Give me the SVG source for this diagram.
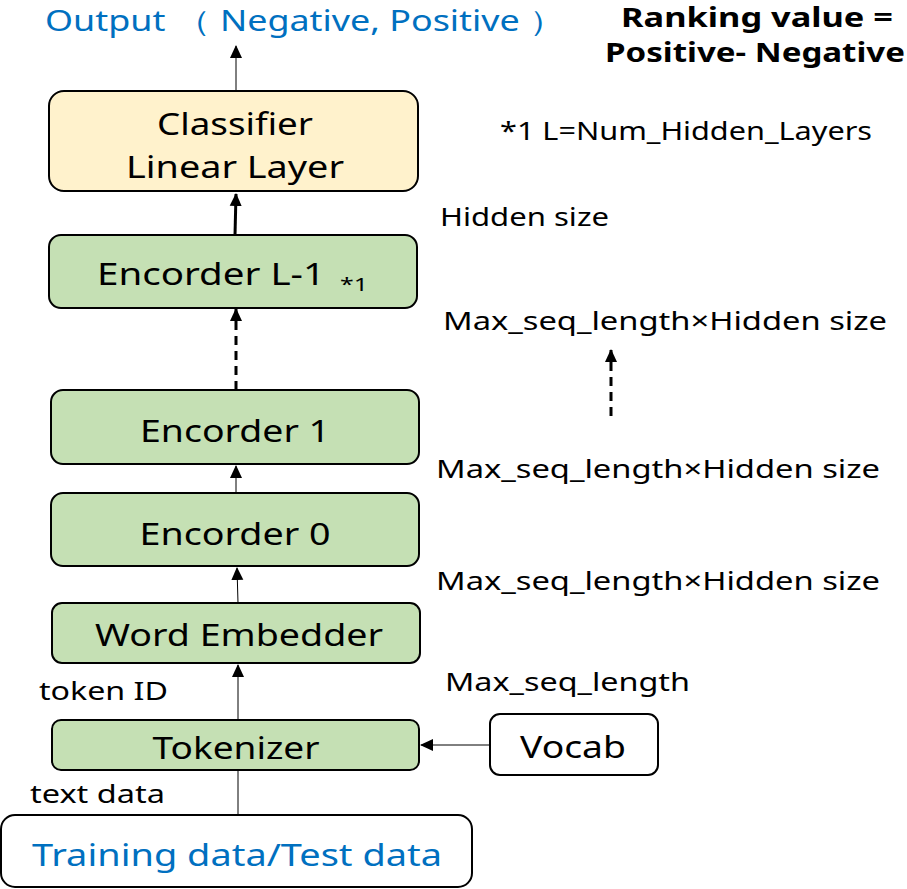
<svg xmlns="http://www.w3.org/2000/svg" width="907" height="889" viewBox="0 0 907 889">
<style>
text{font-family:"Noto Sans","Liberation Sans",sans-serif;fill:#000}
.box{stroke:#000;stroke-width:2}
.green{fill:#C5E0B4}
.yellow{fill:#FFF2CC}
.white{fill:#fff}
.big{font-size:31px;text-anchor:middle}
.lbl{font-size:26px}
.blue{fill:#0070C0}
.line{stroke:#000;stroke-width:1;fill:none}
.thick{stroke:#000;stroke-width:3;fill:none}
.dash{stroke:#000;stroke-width:3;fill:none;stroke-dasharray:9,6}
</style>
<defs>
<marker id="ah" markerWidth="14" markerHeight="14" refX="12" refY="7" orient="auto" markerUnits="userSpaceOnUse"><path d="M0,1 L13,7 L0,13 z" fill="#000"/></marker>
</defs>
<g id="connectors">
<line class="line" x1="236" y1="91" x2="236" y2="46" marker-end="url(#ah)"/>
<line class="thick" x1="235" y1="235" x2="236" y2="194" marker-end="url(#ah)"/>
<line class="dash" x1="236" y1="390" x2="236" y2="309" marker-end="url(#ah)"/>
<line class="line" x1="236" y1="493" x2="236" y2="466" marker-end="url(#ah)"/>
<line class="line" x1="238" y1="603" x2="237" y2="568" marker-end="url(#ah)"/>
<line class="line" x1="238" y1="720" x2="238" y2="665" marker-end="url(#ah)"/>
<line class="line" x1="490" y1="745" x2="421" y2="745" marker-end="url(#ah)"/>
<line class="line" x1="238" y1="815" x2="238" y2="771"/>
<line class="dash" x1="611" y1="416" x2="611" y2="350" marker-end="url(#ah)"/>
</g>
<g id="output-label"><text class="blue" x="45" y="31" font-size="29" textLength="520" lengthAdjust="spacingAndGlyphs">Output （ Negative, Positive ）</text></g>
<g id="ranking-label">
<text x="757" y="27" font-size="26" font-weight="bold" text-anchor="middle" textLength="272" lengthAdjust="spacingAndGlyphs">Ranking value =</text>
<text x="755" y="62" font-size="26" font-weight="bold" text-anchor="middle" textLength="300" lengthAdjust="spacingAndGlyphs">Positive- Negative</text>
</g>
<g id="classifier">
<rect class="box yellow" x="49" y="91" width="369" height="100" rx="15"/>
<text class="big" x="235" y="135" textLength="156" lengthAdjust="spacingAndGlyphs">Classifier</text>
<text class="big" x="235" y="178" textLength="218" lengthAdjust="spacingAndGlyphs">Linear Layer</text>
</g>
<g id="encoder-l1">
<rect class="box green" x="49" y="235" width="368" height="73" rx="12"/>
<text x="97" y="285" font-size="31" textLength="228" lengthAdjust="spacingAndGlyphs">Encorder L-1</text>
<text x="340" y="291" font-size="18" textLength="28" lengthAdjust="spacingAndGlyphs">*1</text>
</g>
<g id="encoder1">
<rect class="box green" x="51" y="390" width="368" height="74" rx="12"/>
<text class="big" x="235" y="442" textLength="190" lengthAdjust="spacingAndGlyphs">Encorder 1</text>
</g>
<g id="encoder0">
<rect class="box green" x="51" y="493" width="368" height="73" rx="12"/>
<text class="big" x="235" y="545" textLength="191" lengthAdjust="spacingAndGlyphs">Encorder 0</text>
</g>
<g id="word-embedder">
<rect class="box green" x="52" y="603" width="368" height="60" rx="10"/>
<text class="big" x="239" y="646" textLength="288" lengthAdjust="spacingAndGlyphs">Word Embedder</text>
</g>
<g id="tokenizer">
<rect class="box green" x="52" y="720" width="367" height="50" rx="9"/>
<text class="big" x="236" y="759" textLength="167" lengthAdjust="spacingAndGlyphs">Tokenizer</text>
</g>
<g id="vocab">
<rect class="box white" x="490" y="714" width="168" height="61" rx="10"/>
<text class="big" x="573" y="758" textLength="106" lengthAdjust="spacingAndGlyphs">Vocab</text>
</g>
<g id="training-data">
<rect class="box white" x="1" y="815" width="471" height="72" rx="14"/>
<text class="big blue" x="237" y="866" textLength="410" lengthAdjust="spacingAndGlyphs">Training data/Test data</text>
</g>
<g id="labels">
<text class="lbl" x="39" y="700" textLength="129" lengthAdjust="spacingAndGlyphs">token ID</text>
<text class="lbl" x="30" y="803" textLength="135" lengthAdjust="spacingAndGlyphs">text data</text>
<text class="lbl" x="445" y="691" textLength="245" lengthAdjust="spacingAndGlyphs">Max_seq_length</text>
<text class="lbl" x="436" y="590" textLength="444" lengthAdjust="spacingAndGlyphs">Max_seq_length×Hidden size</text>
<text class="lbl" x="436" y="478" textLength="444" lengthAdjust="spacingAndGlyphs">Max_seq_length×Hidden size</text>
<text class="lbl" x="443" y="330" textLength="444" lengthAdjust="spacingAndGlyphs">Max_seq_length×Hidden size</text>
<text class="lbl" x="440" y="226" textLength="169" lengthAdjust="spacingAndGlyphs">Hidden size</text>
<text class="lbl" x="500" y="140" font-size="25" textLength="372" lengthAdjust="spacingAndGlyphs">*1 L=Num_Hidden_Layers</text>
</g>
</svg>
